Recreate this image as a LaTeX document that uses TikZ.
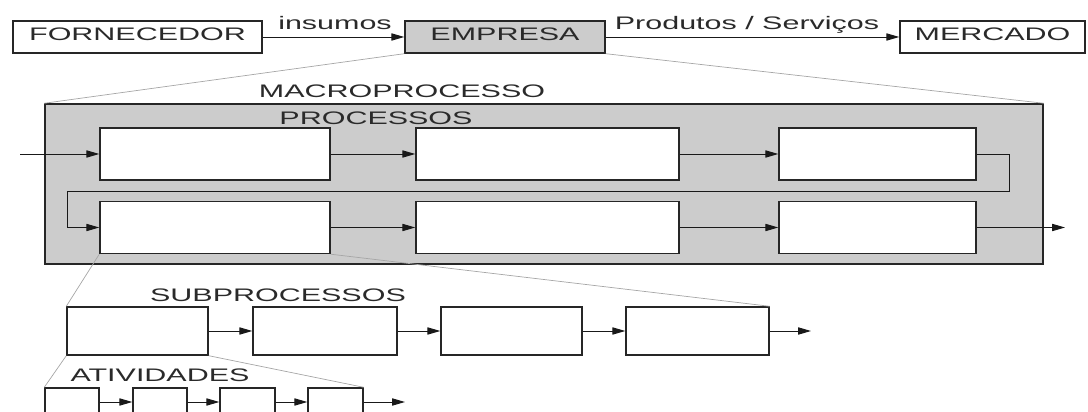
\documentclass[tikz,border=0pt]{standalone}
\usepackage{fontspec}
\usepackage{tikz}
\usetikzlibrary{arrows.meta}
\newfontfamily\rotulo{Liberation Sans}[FakeStretch=1.68]
\definecolor{cinza}{HTML}{CCCCCC}
\definecolor{texto}{HTML}{2A2A2A}

\begin{document}
\begin{tikzpicture}[x = 0.025cm, y = -0.025cm,
    font = \rotulo\fontsize{12.9}{15}\selectfont, text = texto,
    caixa/.style = {draw = black!85, line width = 1pt, fill = white, inner sep = 0pt},
    topo/.style = {caixa, minimum height = 0.8cm, text depth = 3.5pt},
    seta/.style = {draw = black!90, line width = 0.7pt, -{Triangle[length = 3.2mm, width = 1.8mm]}},
    zoom/.style = {draw = gray!70, line width = 0.5pt},
    titulo/.style = {anchor = base, inner sep = 0pt}]
    \clip (0,0) rectangle (1088,412);

    % empresa
    \node[topo, minimum width = 6.225cm] (forn) at (137.5,37) {FORNECEDOR};
    \node[topo, fill = cinza, minimum width = 5cm] (emp) at (505,37) {EMPRESA};
    \node[topo, minimum width = 4.625cm] (merc) at (992.5,37) {MERCADO};
    \draw[seta] (forn) -- (emp);
    \draw[seta] (emp) -- (merc);
    \node[titulo] (ins) at (335,29.5) {insumos};
    \node[titulo] (prod) at (747,29.5) {Produtos / Serviços};

    % macroprocesso
    \node[caixa, fill = cinza, minimum width = 24.95cm, minimum height = 4cm] (macro) at (544,184) {};
    \draw[zoom] (emp.south west) -- (macro.north west);
    \draw[zoom] (emp.south east) -- (macro.north east);
    \node[titulo] (lmacro) at (402,98) {MACROPROCESSO};
    \node[titulo] (lproc) at (376,125) {PROCESSOS};

    \begin{scope}[every node/.style = {caixa, minimum height = 1.3cm}]
        \node[minimum width = 5.75cm] (p1) at (215,154) {};
        \node[minimum width = 6.575cm] (p2) at (547.5,154) {};
        \node[minimum width = 4.925cm] (p3) at (877.5,154) {};
        \node[minimum width = 5.75cm] (p4) at (215,227.5) {};
        \node[minimum width = 6.575cm] (p5) at (547.5,227.5) {};
        \node[minimum width = 4.925cm] (p6) at (877.5,227.5) {};
    \end{scope}
    \coordinate (entra) at (20,154);
    \coordinate (sai) at (1065,227.5);
    \draw[seta] (entra) -- (p1);
    \draw[seta] (p1) -- (p2);
    \draw[seta] (p2) -- (p3);
    \draw[seta] (p3.east) -- ++(33,0) |- (67,191) |- (p4.west);
    \draw[seta] (p4) -- (p5);
    \draw[seta] (p5) -- (p6);
    \draw[seta] (p6) -- (sai);

    % subprocessos
    \begin{scope}[every node/.style = {caixa, minimum height = 1.2cm}]
        \node[minimum width = 3.525cm] (s1) at (137.5,331) {};
        \node[minimum width = 3.6cm] (s2) at (325,331) {};
        \node[minimum width = 3.525cm] (s3) at (511.5,331) {};
        \node[minimum width = 3.575cm] (s4) at (697.5,331) {};
    \end{scope}
    \draw[zoom] (p4.south west) -- (s1.north west);
    \draw[zoom] (p4.south east) -- (s4.north east);
    \node[titulo] (lsub) at (278,302) {SUBPROCESSOS};
    \coordinate (ssai) at (811,331);
    \draw[seta] (s1) -- (s2);
    \draw[seta] (s2) -- (s3);
    \draw[seta] (s3) -- (s4);
    \draw[seta] (s4) -- (ssai);

    % atividades
    \begin{scope}[every node/.style = {caixa, minimum height = 0.7cm}]
        \node[minimum width = 1.35cm] (a1) at (72,402) {};
        \node[minimum width = 1.35cm] (a2) at (160,402) {};
        \node[minimum width = 1.375cm] (a3) at (247.5,402) {};
        \node[minimum width = 1.375cm] (a4) at (335.5,402) {};
    \end{scope}
    \draw[zoom] (s1.south west) -- (a1.north west);
    \draw[zoom] (s1.south east) -- (a4.north east);
    \node[titulo] (lativ) at (160,382) {ATIVIDADES};
    \coordinate (asai) at (405,402);
    \draw[seta] (a1) -- (a2);
    \draw[seta] (a2) -- (a3);
    \draw[seta] (a3) -- (a4);
    \draw[seta] (a4) -- (asai);

\end{tikzpicture}
\end{document}
